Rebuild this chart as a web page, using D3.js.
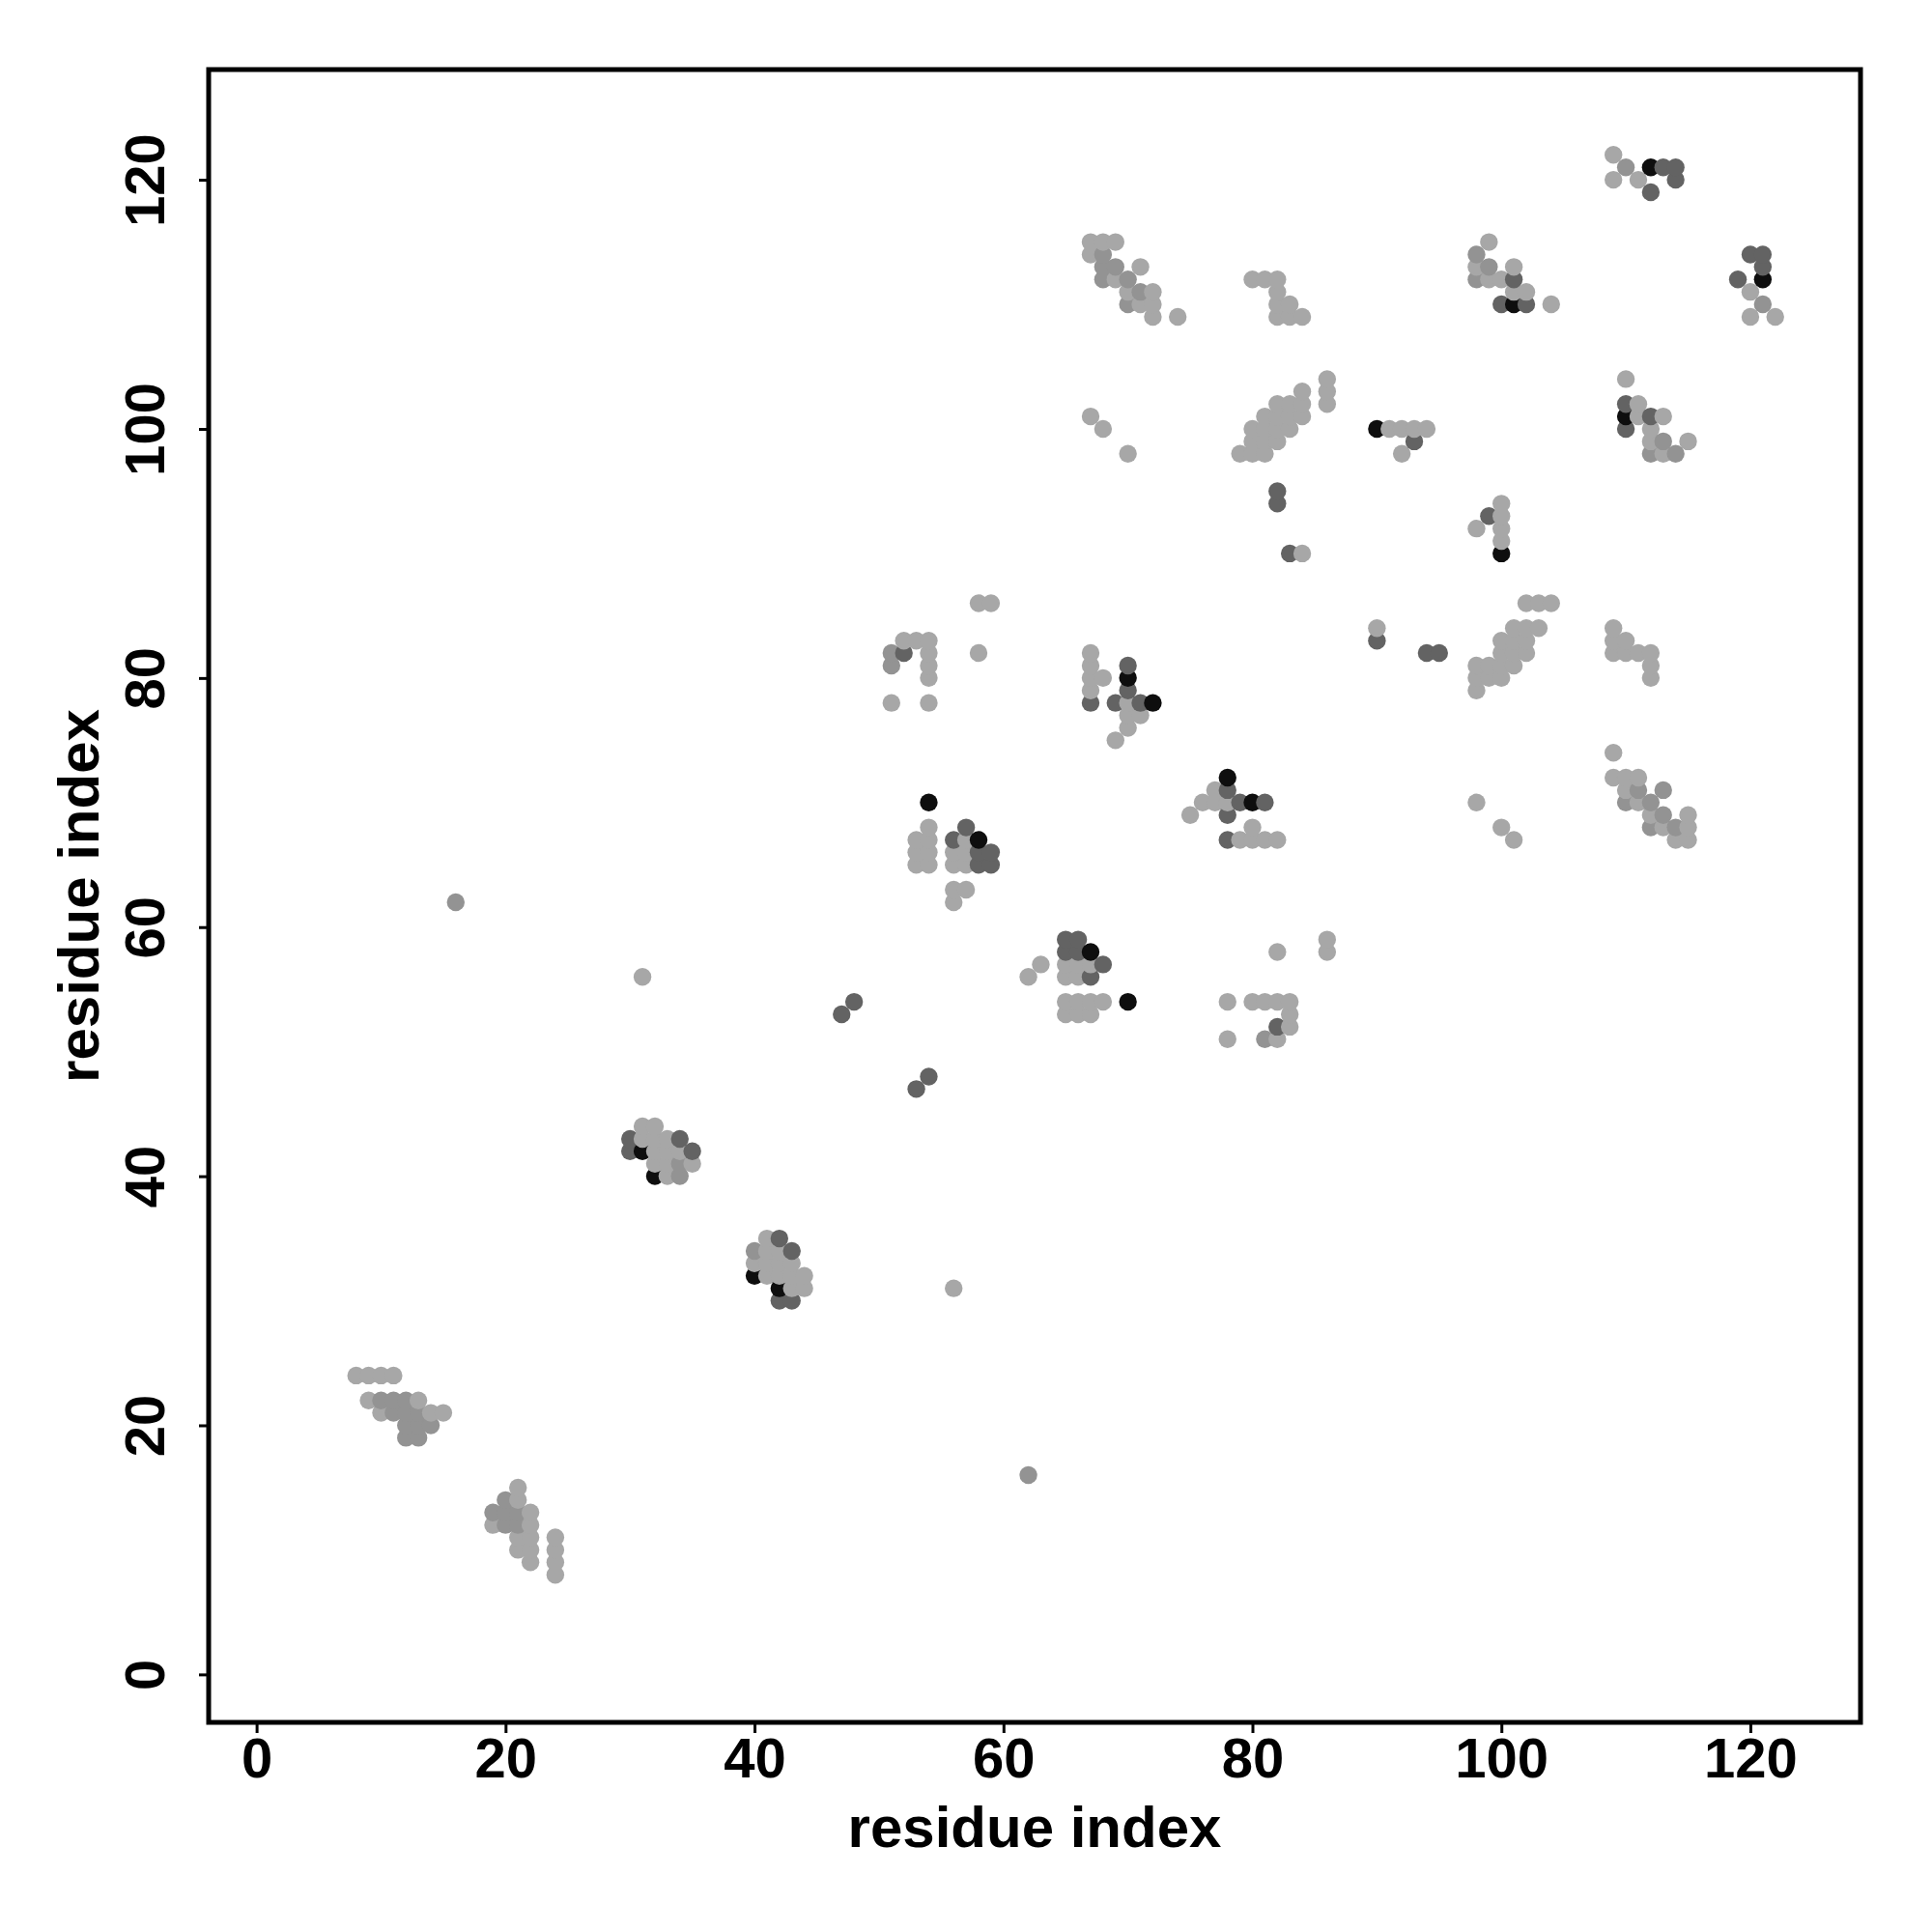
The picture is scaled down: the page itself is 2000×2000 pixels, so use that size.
<!DOCTYPE html>
<html>
<head>
<meta charset="utf-8">
<script src="https://cdn.jsdelivr.net/npm/d3@7"></script>
<style>
  html, body { margin: 0; padding: 0; background: #ffffff; }
  svg { display: block; }
  text { font-family: "Liberation Sans", Arial, Helvetica, sans-serif; font-weight: bold; fill: #000; }
</style>
</head>
<body>
<script>
// ---------------- data (residue index pairs, grouped by grey level) ----------------
const xTicks = [0, 20, 40, 60, 80, 100, 120];
const yTicks = [0, 20, 40, 60, 80, 100, 120];
const axisTitleX = "residue index";
const axisTitleY = "residue index";

// light grey contacts
const lightPoints = [
  [8,24],[9,24],[10,24],[11,24],[9,22],[13,22],[10,21],[14,21],[15,21],
  [21,15],[21,14],[22,13],[19,12],[22,12],[21,11],[22,11],[21,10],[22,10],[22,9],
  [24,11],[24,10],[24,9],[24,8],
  [31,44],[32,44],[31,43],[32,43],[33,43],[32,42],[33,42],[34,42],[32,41],[33,41],[35,41],[33,40],
  [41,35],[41,34],[42,34],[40,33],[41,33],[42,33],[43,33],[41,32],[42,32],[43,32],[44,32],[43,31],[44,31],
  [31,56],[56,31],
  [58,86],[59,86],[58,82],[52,83],[53,83],[54,83],[54,82],[54,81],[54,80],[51,78],[54,78],
  [54,68],[53,67],[54,67],[57,67],[53,66],[54,66],[56,66],[57,66],[53,65],[54,65],[56,65],[57,65],[56,63],[57,63],[56,62],
  [65,57],[66,57],[67,57],[62,56],[63,57],[65,56],[66,56],[65,54],[66,54],[67,54],[68,54],[65,53],[66,53],[67,53],
  [78,54],[78,51],[82,58],[86,59],[86,58],[80,54],[81,54],[82,54],[83,54],[83,53],[83,52],[82,51],
  [67,82],[67,81],[67,80],[68,80],[67,79],[70,78],[70,77],[71,77],[70,76],[69,75],
  [77,71],[76,70],[77,70],[78,70],[75,69],[80,68],[79,67],[80,67],[81,67],[82,67],
  [84,90],[90,84],
  [67,115],[68,115],[69,115],[67,114],[71,113],[69,112],[70,111],[72,111],[71,110],[72,110],[72,109],[74,109],
  [80,112],[81,112],[82,112],[82,111],[82,110],[83,110],[82,109],[83,109],[84,109],
  [86,104],[86,103],[86,102],[84,103],[82,102],[83,102],[84,102],[81,101],[82,101],[83,101],[84,101],
  [80,100],[81,100],[82,100],[83,100],[80,99],[81,99],[82,99],[79,98],[80,98],[81,98],
  [67,101],[68,100],[70,98],
  [91,100],[92,100],[93,100],[94,100],[92,98],
  [100,94],[100,93],[98,92],[100,92],[100,91],
  [102,86],[103,86],[104,86],[101,84],[102,84],[103,84],[100,83],[101,83],[102,83],[100,82],[101,82],[102,82],
  [98,81],[99,81],[100,81],[101,81],[98,80],[99,80],[100,80],[98,79],
  [109,84],[109,83],[110,83],[109,82],[110,82],[111,82],[112,82],[112,81],[112,80],
  [98,70],[100,68],[101,67],
  [109,74],[109,72],[110,72],[111,72],[110,71],[111,70],[112,69],[115,69],[113,68],[115,68],[114,67],[115,67],
  [109,122],[109,120],[111,120],
  [99,115],[98,113],[101,113],[99,112],[100,112],[101,111],[102,111],[104,110],
  [120,111],[120,109],[122,109],
  [110,104],[111,102],[111,101],[113,101],[112,100],[112,99],[115,99],[113,98]
];

// medium grey contacts
const midPoints = [
  [10,22],[11,22],[12,22],[11,21],[12,21],[13,21],[12,20],[13,20],[14,20],[12,19],[13,19],
  [20,14],[19,13],[20,13],[21,13],[20,12],[21,12],
  [34,41],[34,40],[40,34],
  [16,62],[62,16],
  [51,82],[51,81],
  [81,51],
  [68,114],[68,113],[69,113],[68,112],[70,112],[71,111],[70,110],
  [111,71],[113,71],[110,70],[112,70],[113,69],[112,68],[114,68],
  [110,121],[98,114],[99,113],[98,112],[121,110],
  [113,99],[112,98],[114,98]
];

// dark grey contacts
const darkPoints = [
  [30,43],[34,43],[30,42],[35,42],
  [42,35],[43,34],[42,30],[43,30],
  [47,53],[48,54],[53,47],[54,48],
  [52,82],
  [57,68],[56,67],[58,66],[59,66],[58,65],[59,65],
  [65,59],[66,59],[65,58],[66,58],[68,57],[67,56],
  [82,52],
  [67,78],[70,81],[70,79],[69,78],[71,78],
  [78,71],[79,70],[81,70],[78,69],[78,67],
  [82,95],[82,94],[83,90],[90,83],[94,82],[95,82],
  [93,99],[99,93],
  [113,121],[114,121],[114,120],[112,119],
  [101,112],[100,110],[102,110],
  [120,114],[121,114],[121,113],[119,112],
  [110,102],[112,101],[110,100]
];

// black contacts
const blackPoints = [
  [31,42],[32,40],[40,32],[42,31],
  [54,70],[58,67],[67,58],[70,54],
  [70,80],[72,78],[78,72],[80,70],
  [90,100],[100,90],
  [112,121],[101,110],[121,112],[110,101]
];

const shadeColors = { light: "#a7a7a7", mid: "#939393", dark: "#636363", black: "#0e0e0e" };

// ---------------- drawing ----------------
const W = 2000, H = 2000;
const frame = { left: 216, right: 1926, top: 72, bottom: 1783 };

const svg = d3.select("body").append("svg").attr("width", W).attr("height", H);

const x = d3.scaleLinear().domain([-3.85, 128.85]).range([frame.left, frame.right]);
const y = d3.scaleLinear().domain([-3.85, 128.85]).range([frame.bottom, frame.top]);

const all = []
  .concat(lightPoints.map(p => ({ x: p[0], y: p[1], c: shadeColors.light })))
  .concat(midPoints.map(p => ({ x: p[0], y: p[1], c: shadeColors.mid })))
  .concat(darkPoints.map(p => ({ x: p[0], y: p[1], c: shadeColors.dark })))
  .concat(blackPoints.map(p => ({ x: p[0], y: p[1], c: shadeColors.black })));
all.sort((a, b) => a.x - b.x || a.y - b.y);

svg.append("g").selectAll("circle").data(all).join("circle")
  .attr("cx", d => x(d.x))
  .attr("cy", d => y(d.y))
  .attr("r", 9.2)
  .attr("fill", d => d.c);

// x axis
const gx = svg.append("g").attr("transform", `translate(0,${frame.bottom})`)
  .call(d3.axisBottom(x).tickValues(xTicks).tickSize(11).tickFormat(d3.format("d")));
gx.select(".domain").remove();
gx.selectAll(".tick line").attr("stroke", "#000").attr("stroke-width", 3);
gx.selectAll(".tick text")
  .attr("dy", null).attr("y", 57)
  .style("font-size", "58px").style("font-family", '"Liberation Sans", Arial, sans-serif').style("font-weight", "bold").attr("fill", "#000");

// y axis
const gy = svg.append("g").attr("transform", `translate(${frame.left},0)`)
  .call(d3.axisLeft(y).tickValues(yTicks).tickSize(10).tickFormat(d3.format("d")));
gy.select(".domain").remove();
gy.selectAll(".tick line").attr("stroke", "#000").attr("stroke-width", 3);
gy.selectAll(".tick text")
  .attr("x", null).attr("dy", null).attr("y", null)
  .attr("text-anchor", "middle")
  .attr("transform", "translate(-46,0) rotate(-90)")
  .style("font-size", "58px").style("font-family", '"Liberation Sans", Arial, sans-serif').style("font-weight", "bold").attr("fill", "#000");

// frame box
svg.append("rect")
  .attr("x", frame.left).attr("y", frame.top)
  .attr("width", frame.right - frame.left).attr("height", frame.bottom - frame.top)
  .attr("fill", "none").attr("stroke", "#000").attr("stroke-width", 5);

// axis titles
svg.append("text")
  .attr("x", (frame.left + frame.right) / 2).attr("y", 1912)
  .attr("text-anchor", "middle").style("font-size", "60px")
  .text(axisTitleX);
svg.append("text")
  .attr("transform", `translate(102,${(frame.top + frame.bottom) / 2}) rotate(-90)`)
  .attr("text-anchor", "middle").style("font-size", "60px")
  .text(axisTitleY);
</script>
</body>
</html>
